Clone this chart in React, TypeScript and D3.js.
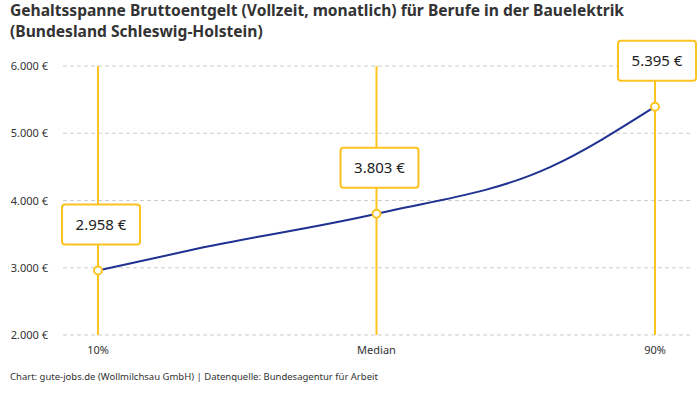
import React from "react";
import * as d3 from "d3";

const title1 = "Gehaltsspanne Bruttoentgelt (Vollzeit, monatlich) für Berufe in der Bauelektrik";
const title2 = "(Bundesland Schleswig-Holstein)";
const footer = "Chart: gute-jobs.de (Wollmilchsau GmbH) | Datenquelle: Bundesagentur für Arbeit";

// markers shown on the chart
const markerPct = [10, 50, 90];
const markerLabels = ["10%", "Median", "90%"];
const markerValues = [2958, 3803, 5395];

// curve (incl. intermediate points on the line)
const curvePct = [10, 25, 50, 75, 90];
const curveValues = [2958, 3300, 3803, 4500, 5395];

const yTicks = [2000, 3000, 4000, 5000, 6000];

const W = 700;
const H = 400;
const YELLOW = "#fdc321";
const BLUE = "#1f3191";
const FONT = "'Noto Sans', sans-serif";

const fmt = (v: number) => d3.format(",")(v).replace(/,/g, ".") + " €";

export default function App() {
  const x = d3.scaleLinear().domain([10, 90]).range([98, 655]);
  const y = d3.scaleLinear().domain([2000, 6000]).range([335, 66]);
  const line = d3
    .line<number>()
    .x((_, i) => x(curvePct[i]))
    .y((d) => y(d))
    .curve(d3.curveMonotoneX);

  const boxW = 78;
  const boxH = 40;

  return (
    <svg
      width={W}
      height={H}
      style={{ position: "absolute", left: 0, top: 0, background: "#fff" }}
      fontFamily={FONT}
    >
      <text x={10} y={16} fontSize={15.6} fontWeight="bold" fill="#333">
        {title1}
      </text>
      <text x={10} y={37} fontSize={15.6} fontWeight="bold" fill="#333">
        {title2}
      </text>

      {yTicks.map((t) => (
        <g key={t}>
          <line
            x1={63}
            x2={690}
            y1={y(t)}
            y2={y(t)}
            stroke="#cccccc"
            strokeDasharray="4,3"
            strokeWidth={1}
          />
          <text x={48} y={y(t) + 4} fontSize={11} textAnchor="end" fill="#333">
            {fmt(t)}
          </text>
        </g>
      ))}

      {markerPct.map((p, i) => (
        <g key={p}>
          <line x1={x(p)} x2={x(p)} y1={y(6000)} y2={y(2000)} stroke={YELLOW} strokeWidth={2} />
          <text x={x(p)} y={354} fontSize={11} textAnchor="middle" fill="#333">
            {markerLabels[i]}
          </text>
        </g>
      ))}

      <path d={line(curveValues) || ""} fill="none" stroke={BLUE} strokeWidth={2} />

      {markerPct.map((p, i) => {
        const cx = x(p);
        const cy = y(markerValues[i]);
        const bx = Math.min(cx - boxW / 2 + 3, W - 4 - boxW);
        const by = cy - 26 - boxH;
        return (
          <g key={"m" + p}>
            <circle cx={cx} cy={cy} r={4} fill="#fff" stroke={YELLOW} strokeWidth={2} />
            <rect x={bx} y={by} width={boxW} height={boxH} rx={3} fill="#fff" stroke={YELLOW} strokeWidth={2} />
            <text x={bx + boxW / 2} y={by + boxH / 2 + 5.5} fontSize={15} textAnchor="middle" fill="#222">
              {fmt(markerValues[i])}
            </text>
          </g>
        );
      })}

      <text x={10} y={380} fontSize={9.5} fill="#333">
        {footer}
      </text>
    </svg>
  );
}
